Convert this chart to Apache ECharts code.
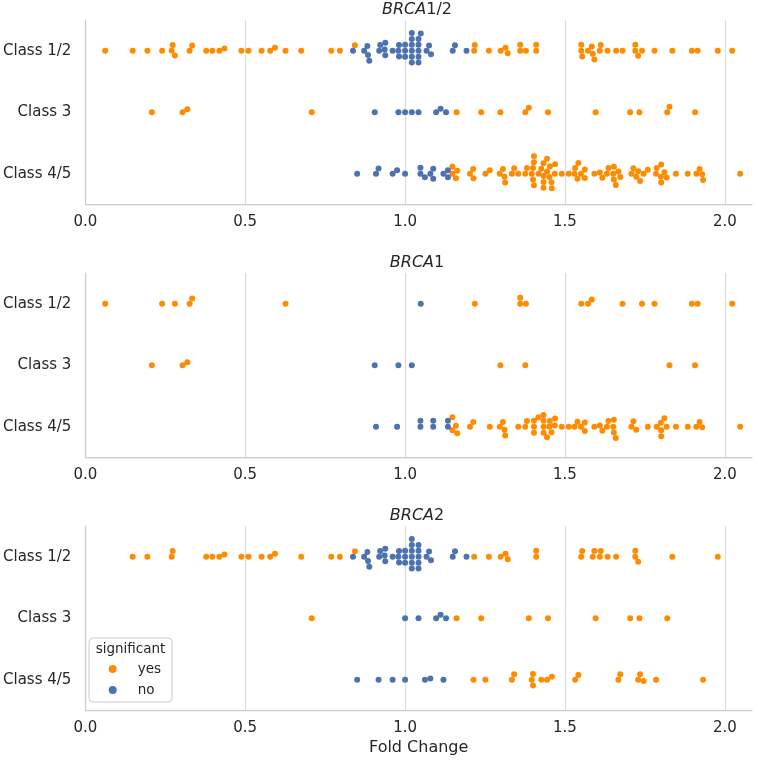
<!DOCTYPE html>
<html>
<head>
<meta charset="utf-8">
<script src="https://cdn.jsdelivr.net/npm/echarts@6/dist/echarts.min.js"></script>
<style>html,body{margin:0;padding:0;background:#fff}#c{width:758px;height:760px}</style>
</head>
<body>
<div id="c"></div>
<script>
const categories = ['Class 1/2', 'Class 3', 'Class 4/5'];
const xTicks = [0, 0.5, 1.0, 1.5, 2.0];
const hueNames = ['yes', 'no'];

// BRCA1 fold changes
const brca1_c12_yes = [0.062, 0.240, 0.280, 0.326, 0.334, 0.626, 1.218, 1.360, 1.360, 1.378, 1.551, 1.572, 1.584, 1.680, 1.741, 1.780, 1.897, 1.915, 2.023];
const brca1_c12_no  = [1.049];
const brca1_c3_yes  = [0.208, 0.304, 0.319, 1.298, 1.376, 1.827, 1.907];
const brca1_c3_no   = [0.905, 0.979, 1.021];
const brca1_c45_yes = [1.148, 1.148, 1.159, 1.163, 1.203, 1.213, 1.265, 1.296, 1.306, 1.311, 1.313, 1.354, 1.376, 1.381,
  1.403, 1.403, 1.403, 1.417, 1.433, 1.433, 1.433, 1.433, 1.444, 1.451, 1.453, 1.458, 1.468, 1.469, 1.490, 1.512,
  1.530, 1.539, 1.550, 1.562, 1.562, 1.592, 1.609, 1.617, 1.631, 1.636, 1.651, 1.653, 1.653, 1.659, 1.708, 1.714,
  1.723, 1.759, 1.787, 1.800, 1.801, 1.801, 1.811, 1.818, 1.847, 1.884, 1.911, 1.921, 1.929, 2.048];
const brca1_c45_no  = [0.909, 0.975, 1.048, 1.048, 1.088, 1.088, 1.134, 1.134];

// BRCA2 fold changes
const brca2_c12_yes = [0.148, 0.194, 0.270, 0.273, 0.378, 0.397, 0.419, 0.435, 0.488, 0.510, 0.551, 0.578, 0.593, 0.675,
  0.769, 0.796, 0.843, 1.216, 1.262, 1.299, 1.314, 1.321, 1.410, 1.410, 1.551, 1.554, 1.587, 1.592, 1.609, 1.612,
  1.633, 1.660, 1.720, 1.720, 1.729, 1.836, 1.978];
const brca2_c12_no  = [0.837, 0.872, 0.882, 0.884, 0.888, 0.919, 0.922, 0.936, 0.938, 0.938, 0.961, 0.979, 0.981, 0.981,
  1.000, 1.000, 1.000, 1.021, 1.021, 1.021, 1.021, 1.021, 1.021, 1.042, 1.042, 1.042, 1.042, 1.042,
  1.067, 1.075, 1.081, 1.149, 1.156, 1.192];
const brca2_c3_yes  = [0.708, 1.161, 1.238, 1.387, 1.447, 1.596, 1.704, 1.733, 1.820];
const brca2_c3_no   = [1.000, 1.042, 1.097, 1.111, 1.128];
const brca2_c45_yes = [1.214, 1.251, 1.334, 1.341, 1.396, 1.400, 1.400, 1.426, 1.444, 1.459, 1.532, 1.542, 1.667, 1.673,
  1.729, 1.735, 1.746, 1.785, 1.932];
const brca2_c45_no  = [0.850, 0.917, 0.961, 1.000, 1.062, 1.079, 1.120];

const brca1 = [[brca1_c12_yes, brca1_c12_no], [brca1_c3_yes, brca1_c3_no], [brca1_c45_yes, brca1_c45_no]];
const brca2 = [[brca2_c12_yes, brca2_c12_no], [brca2_c3_yes, brca2_c3_no], [brca2_c45_yes, brca2_c45_no]];
// BRCA1/2 panel = union of both genes
const brca12 = brca1.map((cat, c) => cat.map((arr, h) => arr.concat(brca2[c][h])));

const panels = [
  {gene: 'BRCA', suffix: '1/2', data: brca12},
  {gene: 'BRCA', suffix: '1', data: brca1},
  {gene: 'BRCA', suffix: '2', data: brca2}
];

const W = 758, H = 760;
const gridLeft = 82, gridRight = 6, gridH = 184.5;
const gridTops = [20, 273, 526];
const xMin = 0, xMax = 2.085;
const colors = {yes: '#ff8c00', no: '#4c72b0'};
const txt = '#262626';
const font = 'DejaVu Sans';
const R = 2.8; // swarm point radius in px
const pxPerX = (W - gridLeft - gridRight) / (xMax - xMin);
const pxPerCat = gridH / categories.length;

// seaborn-like beeswarm in pixel space
function beeswarm(pos, r) {
  const placed = [];
  const out = [];
  pos.forEach(y => {
    const nb = [];
    for (let k = placed.length - 1; k >= 0; k--) {
      if (y - placed[k].y < 2 * r) nb.unshift(placed[k]); else break;
    }
    const cands = [0];
    let leftFirst = true;
    nb.forEach(p => {
      const dy = y - p.y;
      const dx = Math.sqrt(Math.max(4 * r * r - dy * dy, 0)) * 1.05;
      const cl = p.x - dx, cr = p.x + dx;
      if (leftFirst) cands.push(cl, cr); else cands.push(cr, cl);
      leftFirst = !leftFirst;
    });
    const idx = cands.map((c, i) => i).sort((a, b) => (Math.abs(cands[a]) - Math.abs(cands[b])) || (a - b));
    let chosen = 0;
    for (const i of idx) {
      const c = cands[i];
      if (nb.every(p => (p.x - c) * (p.x - c) + (p.y - y) * (p.y - y) >= 4 * r * r - 1e-9)) { chosen = c; break; }
    }
    placed.push({x: chosen, y: y});
    out.push(chosen);
  });
  return out;
}

const grids = [], xAxes = [], yAxes = [], series = [], graphics = [];
panels.forEach((p, i) => {
  grids.push({left: gridLeft, right: gridRight, top: gridTops[i], height: gridH, containLabel: false});
  xAxes.push({
    type: 'value', gridIndex: i, min: xMin, max: xMax, interval: 0.5,
    name: i === 2 ? 'Fold Change' : '', nameLocation: 'middle', nameGap: 29,
    nameTextStyle: {fontSize: 16, color: txt, fontFamily: font},
    axisLine: {show: true, onZero: false, lineStyle: {color: '#cccccc', width: 1.25}},
    axisTick: {show: false},
    axisLabel: {fontSize: 15, color: txt, fontFamily: font, margin: 10, showMaxLabel: false,
      formatter: v => (xTicks.indexOf(v) >= 0 ? v.toFixed(1) : '')},
    splitLine: {show: true, showMinLine: false, showMaxLine: false, lineStyle: {color: '#dcdcdc', width: 1.25}}
  });
  yAxes.push({
    type: 'category', gridIndex: i, data: categories, inverse: true,
    axisLine: {show: true, onZero: false, lineStyle: {color: '#cccccc', width: 1.25}},
    axisTick: {show: false},
    axisLabel: {fontSize: 15, color: txt, fontFamily: font, margin: 14},
    splitLine: {show: false}
  });
  yAxes.push({type: 'value', gridIndex: i, min: -0.5, max: 2.5, inverse: true, show: false});

  const pts = {yes: [], no: []};
  p.data.forEach((cat, c) => {
    const items = [];
    cat.forEach((arr, h) => arr.forEach(v => items.push({v: v, hue: hueNames[h]})));
    items.sort((a, b) => a.v - b.v);
    const offs = beeswarm(items.map(it => (it.v - xMin) * pxPerX), R);
    items.forEach((it, k) => pts[it.hue].push([it.v, c + offs[k] / pxPerCat]));
  });
  hueNames.forEach(h => {
    series.push({
      name: h, type: 'scatter', xAxisIndex: i, yAxisIndex: 2 * i + 1,
      symbol: 'circle', symbolSize: 6, itemStyle: {color: colors[h], opacity: 1},
      emphasis: {disabled: true}, data: pts[h]
    });
  });
  graphics.push({
    type: 'text', x: gridLeft + (W - gridLeft - gridRight) / 2, y: gridTops[i] - 10, z: 100,
    style: {
      text: '{i|' + p.gene + '}{n|' + p.suffix + '}', align: 'center', verticalAlign: 'middle',
      fill: txt, fontSize: 16, fontFamily: font,
      rich: {
        i: {fontStyle: 'italic', fontSize: 16, fontFamily: font, fill: txt},
        n: {fontSize: 16, fontFamily: font, fill: txt}
      }
    }
  });
});

graphics.push({
  type: 'text', x: 130.5, y: 649, z: 100,
  style: {text: 'significant', align: 'center', verticalAlign: 'middle', fill: txt, fontSize: 13.5, fontFamily: font}
});

const chart = echarts.init(document.getElementById('c'), null, {renderer: 'canvas'});
chart.setOption({
  animation: false,
  backgroundColor: '#ffffff',
  grid: grids,
  xAxis: xAxes,
  yAxis: yAxes,
  series: series,
  legend: {
    data: hueNames.map(n => ({name: n, icon: 'circle'})),
    orient: 'vertical', left: 89, top: 638,
    padding: [24, 11, 5, 19.7], itemWidth: 8, itemHeight: 8, itemGap: 7,
    textStyle: {fontSize: 13.5, color: txt, fontFamily: font, padding: [0, 0, 0, 16]},
    borderColor: '#cccccc', borderWidth: 1, borderRadius: 4,
    backgroundColor: 'rgba(255,255,255,0.85)', selectedMode: false, z: 10
  },
  graphic: graphics
});
</script>
</body>
</html>
